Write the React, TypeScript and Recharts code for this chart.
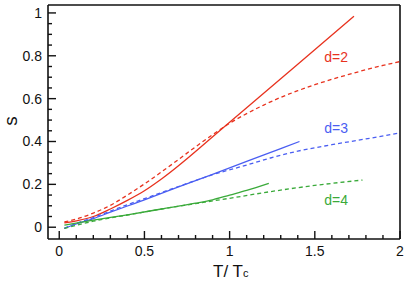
import React from "react";
import {
  LineChart,
  Line,
  XAxis,
  YAxis,
  ReferenceDot,
  ReferenceLine,
} from "recharts";

const RED = "#e8321e";
const BLUE = "#4a5ef2";
const GREEN = "#3aaa3a";

const d2Solid = [
  { t: 0.03, s: 0.02 }, { t: 0.1, s: 0.03 }, { t: 0.2, s: 0.05 }, { t: 0.3, s: 0.085 },
  { t: 0.4, s: 0.125 }, { t: 0.5, s: 0.17 }, { t: 0.6, s: 0.225 }, { t: 1.0, s: 0.49 },
  { t: 1.4, s: 0.76 }, { t: 1.73, s: 0.985 },
];
const d2Dashed = [
  { t: 0.03, s: 0.025 }, { t: 0.1, s: 0.038 }, { t: 0.2, s: 0.066 }, { t: 0.3, s: 0.102 },
  { t: 0.4, s: 0.15 }, { t: 0.5, s: 0.202 }, { t: 0.6, s: 0.258 }, { t: 0.7, s: 0.316 },
  { t: 0.8, s: 0.375 }, { t: 0.9, s: 0.432 }, { t: 1.0, s: 0.485 }, { t: 1.1, s: 0.53 },
  { t: 1.2, s: 0.57 }, { t: 1.3, s: 0.606 }, { t: 1.4, s: 0.637 }, { t: 1.5, s: 0.665 },
  { t: 1.6, s: 0.69 }, { t: 1.7, s: 0.713 }, { t: 1.8, s: 0.735 }, { t: 1.9, s: 0.755 },
  { t: 2.0, s: 0.773 },
];
const d3Solid = [
  { t: 0.03, s: -0.005 }, { t: 0.1, s: 0.015 }, { t: 0.2, s: 0.04 }, { t: 0.3, s: 0.07 },
  { t: 0.4, s: 0.099 }, { t: 0.5, s: 0.128 }, { t: 0.7, s: 0.188 }, { t: 0.9, s: 0.247 },
  { t: 1.1, s: 0.307 }, { t: 1.3, s: 0.367 }, { t: 1.41, s: 0.4 },
];
const d3Dashed = [
  { t: 0.03, s: -0.005 }, { t: 0.1, s: 0.018 }, { t: 0.2, s: 0.045 }, { t: 0.3, s: 0.075 },
  { t: 0.4, s: 0.105 }, { t: 0.5, s: 0.133 }, { t: 0.7, s: 0.19 }, { t: 0.9, s: 0.245 },
  { t: 1.1, s: 0.29 }, { t: 1.24, s: 0.323 }, { t: 1.4, s: 0.355 }, { t: 1.6, s: 0.385 },
  { t: 1.8, s: 0.412 }, { t: 2.0, s: 0.44 },
];
const d4Solid = [
  { t: 0.03, s: 0.01 }, { t: 0.2, s: 0.033 }, { t: 0.4, s: 0.058 }, { t: 0.6, s: 0.085 },
  { t: 0.8, s: 0.112 }, { t: 0.9, s: 0.128 }, { t: 1.0, s: 0.15 }, { t: 1.1, s: 0.172 },
  { t: 1.23, s: 0.205 },
];
const d4Dashed = [
  { t: 0.03, s: -0.005 }, { t: 0.2, s: 0.028 }, { t: 0.4, s: 0.057 }, { t: 0.6, s: 0.085 },
  { t: 0.8, s: 0.11 }, { t: 1.0, s: 0.135 }, { t: 1.24, s: 0.166 }, { t: 1.5, s: 0.195 },
  { t: 1.78, s: 0.22 },
];

const xMajor = [0, 0.5, 1, 1.5, 2];
const yMajor = [0, 0.2, 0.4, 0.6, 0.8, 1];
const xAll = [0, 0.1, 0.2, 0.3, 0.4, 0.5, 0.6, 0.7, 0.8, 0.9, 1, 1.1, 1.2, 1.3, 1.4, 1.5, 1.6, 1.7, 1.8, 1.9, 2];
const yAll = [0, 0.05, 0.1, 0.15, 0.2, 0.25, 0.3, 0.35, 0.4, 0.45, 0.5, 0.55, 0.6, 0.65, 0.7, 0.75, 0.8, 0.85, 0.9, 0.95, 1];

const labels = [
  { t: 1.625, s: 0.796, text: "d=2", color: RED },
  { t: 1.625, s: 0.464, text: "d=3", color: BLUE },
  { t: 1.625, s: 0.126, text: "d=4", color: GREEN },
];

const X_MIN = -0.066;
const X_MAX = 2;
const Y_MIN = -0.055;
const Y_MAX = 1.037;

const FONT = "'Liberation Sans', Arial, sans-serif";
const AXIS = "#111";
const W = 407;
const H = 287;
const PLOT_LEFT = 48;
const PLOT_BOTTOM = 239;

// inward tick lengths in data units
const yPerPx = (Y_MAX - Y_MIN) / (PLOT_BOTTOM - 5);
const xPerPx = (X_MAX - X_MIN) / (W - 7 - PLOT_LEFT);

const isMajor = (v: number, list: number[]) => list.some((m) => Math.abs(m - v) < 1e-6);

export default function App() {
  return (
    <div style={{ position: "absolute", left: 0, top: 0, background: "#fff" }}>
      <LineChart width={W} height={H} margin={{ top: 5, right: 7, bottom: 0, left: 0 }}>
        <XAxis
          xAxisId="b"
          type="number"
          dataKey="t"
          domain={[X_MIN, X_MAX]}
          ticks={xMajor}
          interval={0}
          tick={{ fontSize: 14, fontFamily: FONT, fill: "#111" }}
          tickLine={false}
          tickMargin={1}
          height={H - PLOT_BOTTOM}
          axisLine={{ stroke: AXIS, strokeWidth: 1.6 }}
          allowDataOverflow
          label={() => (
            <text x={213} y={277} fontSize={17} fontFamily={FONT} fill="#111">
              T/ T<tspan fontSize={11}>c</tspan>
            </text>
          )}
        />
        <YAxis
          yAxisId="l"
          type="number"
          domain={[Y_MIN, Y_MAX]}
          ticks={yMajor}
          interval={0}
          tick={{ fontSize: 14, fontFamily: FONT, fill: "#111" }}
          tickLine={false}
          tickMargin={0}
          width={PLOT_LEFT}
          axisLine={{ stroke: AXIS, strokeWidth: 1.6 }}
          allowDataOverflow
          label={() => (
            <text x={17} y={121} fontSize={19} fontFamily={FONT} fill="#111" textAnchor="middle" transform="rotate(-90 17 121)">
              s
            </text>
          )}
        />
        {/* top and right frame */}
        <ReferenceLine xAxisId="b" yAxisId="l" y={Y_MAX} ifOverflow="visible" stroke={AXIS} strokeWidth={1.6} />
        <ReferenceLine xAxisId="b" yAxisId="l" x={X_MAX} ifOverflow="visible" stroke={AXIS} strokeWidth={1.6} />
        {xAll.map((v) => (
          <ReferenceLine
            key={"xt" + v}
            xAxisId="b"
            yAxisId="l"
            ifOverflow="visible"
            stroke={AXIS}
            strokeWidth={1.4}
            segment={[
              { x: v, y: Y_MIN },
              { x: v, y: Y_MIN + (isMajor(v, xMajor) ? 8 : 4) * yPerPx },
            ]}
          />
        ))}
        {yAll.map((v) => (
          <ReferenceLine
            key={"yt" + v}
            xAxisId="b"
            yAxisId="l"
            ifOverflow="visible"
            stroke={AXIS}
            strokeWidth={1.4}
            segment={[
              { x: X_MIN, y: v },
              { x: X_MIN + (isMajor(v, yMajor) ? 8 : 4) * xPerPx, y: v },
            ]}
          />
        ))}
        <Line xAxisId="b" yAxisId="l" data={d2Solid} dataKey="s" type="monotone" stroke={RED} strokeWidth={1.3} dot={false} isAnimationActive={false} />
        <Line xAxisId="b" yAxisId="l" data={d2Dashed} dataKey="s" type="monotone" stroke={RED} strokeWidth={1.3} strokeDasharray="4 3" dot={false} isAnimationActive={false} />
        <Line xAxisId="b" yAxisId="l" data={d3Solid} dataKey="s" type="monotone" stroke={BLUE} strokeWidth={1.3} dot={false} isAnimationActive={false} />
        <Line xAxisId="b" yAxisId="l" data={d3Dashed} dataKey="s" type="monotone" stroke={BLUE} strokeWidth={1.3} strokeDasharray="4 3" dot={false} isAnimationActive={false} />
        <Line xAxisId="b" yAxisId="l" data={d4Solid} dataKey="s" type="monotone" stroke={GREEN} strokeWidth={1.3} dot={false} isAnimationActive={false} />
        <Line xAxisId="b" yAxisId="l" data={d4Dashed} dataKey="s" type="monotone" stroke={GREEN} strokeWidth={1.3} strokeDasharray="4 3" dot={false} isAnimationActive={false} />
        {labels.map((l) => (
          <ReferenceDot
            key={l.text}
            xAxisId="b"
            yAxisId="l"
            x={l.t}
            y={l.s}
            r={0}
            fill="none"
            stroke="none"
            label={{ value: l.text, fill: l.color, fontSize: 14, fontFamily: FONT, position: "center" }}
          />
        ))}
      </LineChart>
    </div>
  );
}
